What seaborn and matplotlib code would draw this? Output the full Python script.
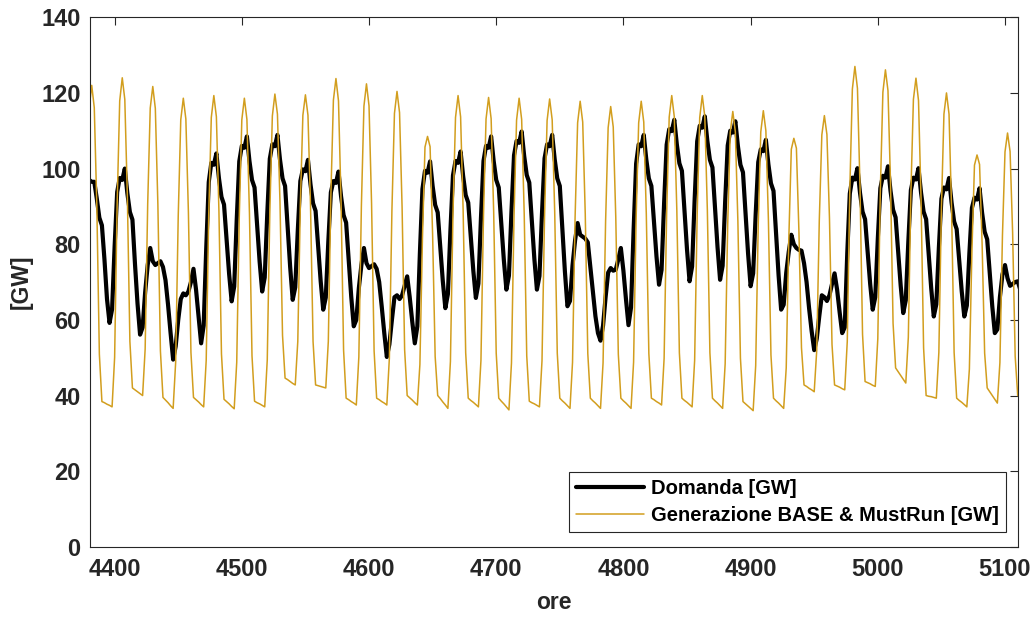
import numpy as np
import pandas as pd
import matplotlib
matplotlib.use("Agg")
import matplotlib.pyplot as plt
import seaborn as sns

# ---------------- data ----------------
start_hour = 4376          # first sample hour
step_hours = 2             # one sample every 2 hours
x_limits = (4381, 5110)
y_limits = (0, 140)
x_ticks = [4400, 4500, 4600, 4700, 4800, 4900, 5000, 5100]
y_ticks = [0, 20, 40, 60, 80, 100, 120, 140]
label_dem = "Domanda [GW]"
label_gen = "Generazione BASE & MustRun [GW]"
x_label = "ore"
y_label = "[GW]"

# Demand [GW], 12 samples per day
domanda = [
    85, 94, 97, 96.5, 96.5, 92, 87, 85, 76, 65.5, 59.2, 62.8,
    79.4, 93.8, 97.5, 97, 100, 93.5, 88.5, 86.5, 74.8, 64.3, 56.1, 58,
    67.3, 74.5, 79, 75.5, 74.5, 75, 75.5, 74, 70.5, 64, 56.5, 49.5,
    53, 60, 65.5, 67, 66.5, 67.5, 70, 73.5, 68, 61, 53.8, 58.5,
    78.7, 96.4, 101.5, 101, 104, 97.5, 92.5, 90.5, 81.4, 72.2, 64.9, 68.8,
    86.5, 101.9, 106, 105.5, 108.5, 102, 97, 95, 85.2, 75.4, 67.5, 71.2,
    88, 102.6, 106.4, 105.9, 108.9, 102.4, 97.4, 95.4, 84.7, 74, 65.3, 68.6,
    83.6, 96.7, 99.8, 99.3, 102.3, 95.8, 90.8, 88.8, 79.5, 70.2, 62.7, 65.9,
    80.7, 93.7, 96.7, 96.2, 99.2, 92.7, 87.7, 85.7, 76, 66.2, 58.3, 60,
    68.4, 74.5, 79, 75, 73.7, 74.2, 74.7, 73.5, 70, 63.5, 56.5, 50.2,
    53.5, 60, 66, 66.5, 65.5, 66.5, 69, 71.5, 66, 59.5, 53.8, 58.3,
    77.7, 94.6, 99.4, 98.9, 101.9, 95.4, 90.4, 88.4, 79.4, 70.3, 63.1, 66.8,
    83.6, 98.2, 102, 101.5, 104.5, 98, 93, 91, 82, 73, 65.8, 69.6,
    86.9, 102, 106, 105.5, 108.5, 102, 97, 95, 85.4, 75.8, 68, 71.7,
    88.7, 103.5, 107.3, 106.8, 109.8, 103.3, 98.3, 96.3, 86.2, 76.1, 68, 71.6,
    88.2, 102.7, 106.4, 105.9, 108.9, 102.4, 97.4, 95.4, 84.1, 72.8, 63.6, 65,
    74.4, 81, 85.6, 82.5, 82, 81.5, 80.5, 74, 67.5, 61, 56.5, 54.5,
    58.5, 66, 72.5, 73.7, 73, 73.3, 76, 79, 73, 65.5, 58.6, 63.3,
    83.6, 101.3, 106.4, 105.9, 108.9, 102.4, 97.4, 95.4, 86.1, 76.8, 69.3, 73.2,
    90.9, 106.3, 110.4, 109.9, 112.9, 106.4, 101.4, 99.4, 89, 78.6, 70.2, 74.1,
    91.8, 107.2, 111.3, 110.8, 113.8, 107.3, 102.3, 100.3, 89.7, 79.2, 70.6, 74.3,
    91.3, 106.1, 110, 109.5, 112.5, 106, 101, 99, 88.3, 77.6, 68.9, 72.3,
    88, 101.7, 105.1, 104.6, 107.6, 101.1, 96.1, 94.1, 82.9, 71.8, 62.7, 64,
    72.4, 78, 82.5, 80, 79, 78.5, 78.3, 75, 70, 63, 57, 52,
    55, 61, 66.5, 66, 65, 66.5, 69.5, 72.3, 68, 62, 56.5, 58,
    77.7, 93.4, 97.6, 97.1, 100.1, 93.6, 88.6, 86.6, 78.1, 69.5, 62.7, 66,
    81.4, 94.8, 98.1, 97.6, 100.6, 94.1, 89.1, 87.1, 78.1, 69, 61.8, 65.2,
    80.7, 94.3, 97.6, 97.1, 100.1, 93.6, 88.6, 86.6, 77.4, 68.3, 60.9, 64.1,
    79, 92, 95, 94.5, 97.5, 91, 86, 84, 75.7, 67.5, 60.9, 63.8,
    77.6, 89.6, 92.3, 91.8, 94.8, 88.3, 83.3, 81.3, 72.4, 63.6, 56.5, 57.5,
    66, 72, 74.5, 71, 69, 69.5, 70, 70.2, 68, 63, 57, 52,
]

# Base & must-run generation [GW], 12 samples per day
generazione = [
    50.6, 90.1, 116.1, 122, 116.1, 90.2, 50.9, 38.4, 38.1, 37.7, 37.4, 37,
    50.1, 90.9, 117.9, 124, 118.3, 92.8, 54.3, 42, 41.5, 41, 40.5, 40,
    52.3, 90.7, 116, 121.7, 115.9, 90.5, 51.8, 39.5, 38.8, 38.1, 37.3, 36.6,
    48.9, 87.4, 112.9, 118.6, 113.1, 88.5, 51.4, 39.5, 38.9, 38.3, 37.6, 37,
    49.3, 88, 113.5, 119.3, 113.7, 88.8, 51, 39, 38.4, 37.8, 37.1, 36.5,
    48.8, 87.4, 112.9, 118.6, 113, 88.2, 50.5, 38.5, 38.1, 37.8, 37.4, 37,
    49.4, 88.3, 113.9, 119.7, 114.4, 91.2, 55.9, 44.6, 44.2, 43.7, 43.2, 42.8,
    54.3, 90.4, 114.1, 119.5, 114.1, 90.4, 54.3, 42.8, 42.6, 42.4, 42.2, 42,
    54.3, 92.7, 118.1, 123.8, 117.9, 91.7, 52, 39.3, 38.9, 38.4, 38, 37.5,
    50.2, 90.1, 116.5, 122.4, 116.6, 90.8, 51.8, 39.3, 38.9, 38.4, 38, 37.5,
    49.9, 88.9, 114.6, 120.4, 114.8, 89.8, 52.1, 40, 39.4, 38.8, 38.1, 37.5,
    48.2, 81.5, 105.7, 108.5, 105.8, 82.5, 50.3, 40, 39.2, 38.3, 37.5, 36.6,
    49, 87.9, 113.5, 119.3, 113.7, 88.9, 51.3, 39.3, 38.7, 38.2, 37.6, 37,
    49.3, 87.7, 113.1, 118.8, 113.2, 88.6, 51.2, 39.3, 38.5, 37.8, 37, 36.2,
    48.6, 87.3, 112.8, 118.6, 113, 88.2, 50.5, 38.5, 38.1, 37.8, 37.4, 37,
    49.2, 87.5, 112.7, 118.4, 112.9, 88.3, 51.2, 39.3, 38.6, 38, 37.3, 36.6,
    48.8, 86.9, 112.1, 117.8, 112.3, 88, 51.1, 39.3, 38.6, 38, 37.3, 36.6,
    48.6, 86.1, 110.8, 116.4, 111, 87.1, 50.9, 39.3, 38.6, 38, 37.3, 36.6,
    48.8, 86.9, 112.1, 117.8, 112.3, 88, 51.1, 39.3, 38.9, 38.4, 38, 37.5,
    49.8, 88.2, 113.6, 119.3, 113.7, 88.9, 51.3, 39.3, 38.7, 38.2, 37.6, 37,
    49.3, 88, 113.5, 119.3, 113.7, 88.9, 51.3, 39.3, 38.6, 38, 37.3, 36.6,
    48.4, 85.3, 109.6, 115.1, 109.7, 86, 49.9, 38.4, 37.8, 37.2, 36.6, 36,
    47.9, 85.2, 109.7, 115.3, 110, 86.4, 50.7, 39.3, 38.6, 38, 37.3, 36.6,
    47.3, 80.9, 105.1, 108, 105.4, 83.2, 52.6, 42.8, 42.4, 41.9, 41.5, 41,
    52, 86.3, 108.9, 114, 109, 86.9, 53.5, 42.8, 42.5, 42.2, 41.8, 41.5,
    54.3, 94.5, 121, 127, 121.2, 95.3, 56.2, 43.7, 43.4, 43.1, 42.7, 42.4,
    55, 94.3, 120.2, 126.1, 120.6, 96.2, 59.1, 47.3, 46.3, 45.3, 44.3, 43.3,
    55.4, 93.3, 118.3, 123.9, 118, 92, 52.6, 40, 39.8, 39.7, 39.5, 39.3,
    51.4, 89.3, 114.4, 120, 114.4, 89.3, 51.4, 39.3, 38.7, 38.2, 37.6, 37,
    47, 78.3, 100.9, 103.6, 101.1, 80.2, 51.2, 42, 41, 40, 39, 38,
    48.7, 82.3, 104.4, 109.4, 104.5, 83, 50.4, 40, 39.8, 39.5, 39.3, 39,
]

# ---------------- build table ----------------
hours = start_hour + step_hours * np.arange(len(domanda))
df = pd.DataFrame({"ore": hours, "dem": domanda, "gen": generazione})

# ---------------- style ----------------
sns.set_theme(style="white")
plt.rcParams["font.family"] = ["Liberation Sans", "DejaVu Sans"]
plt.rcParams["font.weight"] = "bold"
plt.rcParams["axes.labelweight"] = "bold"

DARK = "#262626"
GOLD = "#D29E1E"

fig = plt.figure(figsize=(10.35, 6.19), dpi=100)
ax = fig.add_axes([0.0874, 0.1166, 0.8959, 0.8555])

sns.lineplot(data=df, x="ore", y="dem", ax=ax, color="black", linewidth=3.0,
             label=label_dem, estimator=None, sort=False)
sns.lineplot(data=df, x="ore", y="gen", ax=ax, color=GOLD, linewidth=1.1,
             label=label_gen, estimator=None, sort=False)

ax.set_xlim(*x_limits)
ax.set_ylim(*y_limits)
ax.set_xticks(x_ticks)
ax.set_yticks(y_ticks)

for s in ax.spines.values():
    s.set_visible(True)
    s.set_color(DARK)
    s.set_linewidth(0.8)

ax.tick_params(axis="both", direction="in", length=6, width=0.8,
               top=True, right=True, colors=DARK, labelsize=17)
ax.tick_params(axis="x", pad=8)
ax.tick_params(axis="y", pad=7)

ax.set_xlabel(x_label, fontsize=16.5, fontweight="bold", color=DARK, va="center")
ax.set_ylabel(y_label, fontsize=16.5, fontweight="bold", color=DARK, va="center")
ax.xaxis.set_label_coords(0.5, -0.106)
ax.yaxis.set_label_coords(-0.075, 0.5)

leg = ax.legend(loc="lower right", bbox_to_anchor=(0.9874, 0.028),
                borderaxespad=0, frameon=True, fancybox=False,
                fontsize=14.5, handlelength=3.4, handletextpad=0.35,
                borderpad=0.35, labelspacing=0.4)
leg.get_frame().set_edgecolor(DARK)
leg.get_frame().set_linewidth(0.8)
leg.get_frame().set_facecolor("white")
leg.get_frame().set_alpha(1.0)
for t in leg.get_texts():
    t.set_fontweight("bold")
    t.set_color("black")

fig.savefig("out.png", dpi=100)
